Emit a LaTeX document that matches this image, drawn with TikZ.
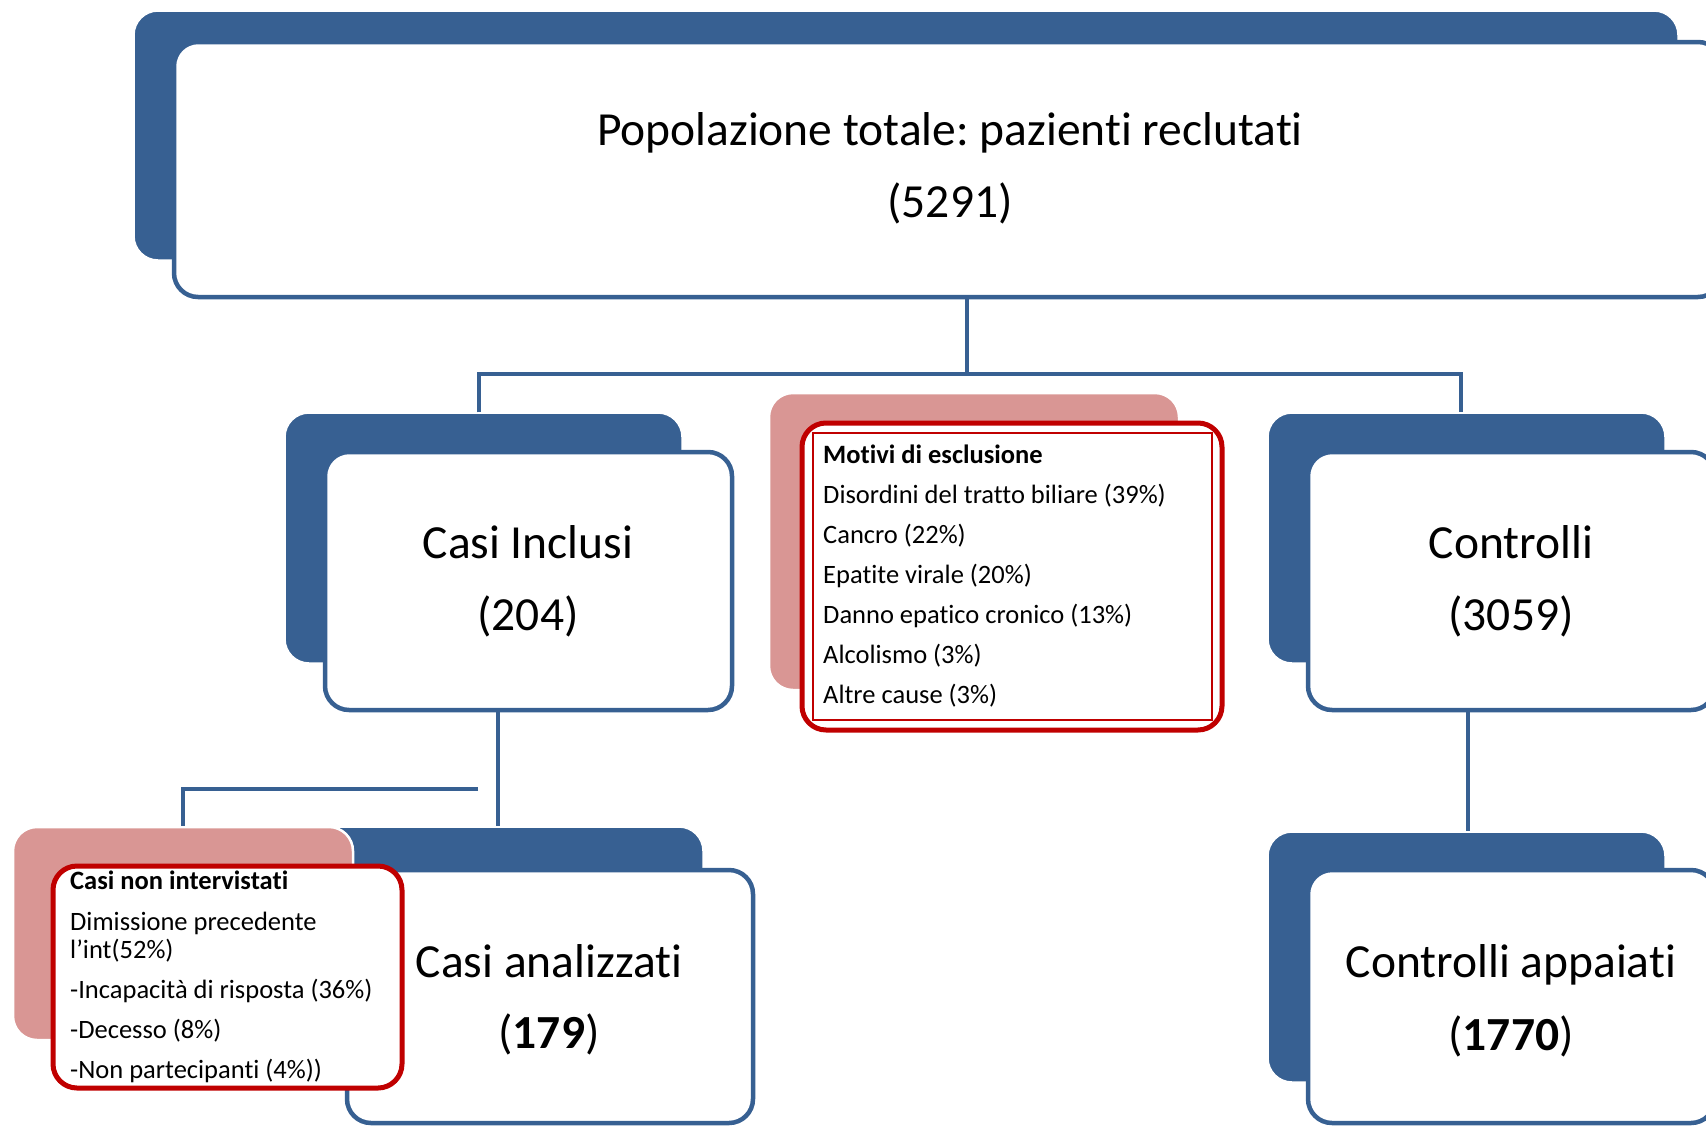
\documentclass[tikz,border=0pt]{standalone}
\usepackage{fontspec}
\setmainfont{Carlito}[Ligatures={NoCommon,NoContextual}]
\frenchspacing
\newcommand\xti{t\kern0pt i}
\definecolor{blueC}{HTML}{376092}
\definecolor{pinkC}{HTML}{D99694}
\definecolor{redC}{HTML}{C00000}
\tikzset{
  backbox/.style={rectangle, rounded corners=24pt, fill=blueC, draw=white, line width=1.5pt, inner sep=0pt},
  frontbox/.style={rectangle, rounded corners=24pt, fill=white, draw=blueC, line width=4.5pt, inner sep=0pt},
  pinkbox/.style={rectangle, rounded corners=24pt, fill=pinkC, draw=white, line width=2.5pt, inner sep=0pt},
  redbox/.style={rectangle, rounded corners=24pt, fill=white, draw=redC, line width=5pt, inner sep=0pt},
  conn/.style={draw=blueC, line width=4pt},
  bigtxt/.style={anchor=base, inner sep=0pt, font=\fontsize{47.5}{56}\selectfont},
  smalltxt/.style={anchor=base west, inner sep=0pt, font=\fontsize{26.5}{30}\selectfont},
}
\begin{document}
\begin{tikzpicture}[x=1pt,y=-1pt]
\useasboundingbox (0,0) rectangle (1706,1125);
\clip (0,0) rectangle (1706,1125);

% top
\node[backbox, minimum width=1544pt, minimum height=249pt] (topB) at (906,135.5) {};
\node[frontbox, minimum width=1548pt, minimum height=255pt] (topF) at (948,169.5) {};
\node[bigtxt] (t1) at (950,145) {Popolazione totale: pazien\xti{} recluta\xti};
\node[bigtxt] (t2) at (950,217) {(5291)};

% casi inclusi
\node[backbox, minimum width=397pt, minimum height=250pt] (ciB) at (483.5,538) {};
\node[frontbox, minimum width=407pt, minimum height=258pt] (ciF) at (528.5,581) {};
\node[bigtxt] (ci1) at (528,558) {Casi Inclusi};
\node[bigtxt] (ci2) at (528,630) {(204)};

% controlli
\node[backbox, minimum width=397pt, minimum height=250pt] (ctB) at (1466.5,538) {};
\node[frontbox, minimum width=407pt, minimum height=258pt] (ctF) at (1511.5,581) {};
\node[bigtxt] (ct1) at (1511,558) {Controlli};
\node[bigtxt] (ct2) at (1511,630) {(3059)};

% motivi di esclusione
\node[pinkbox, minimum width=410pt, minimum height=297pt] (meB) at (974,541.5) {};
\node[redbox, minimum width=420pt, minimum height=307pt] (meF) at (1012,576.5) {};
\node[draw=redC, line width=1.2pt, minimum width=399pt, minimum height=287pt, inner sep=0pt] (meI) at (1012.5,576.5) {};
\node[smalltxt] (m1) at (823,463) {\bfseries Mo\xti vi di esclusione};
\node[smalltxt] (m2) at (823,503) {Disordini del tratto biliare (39\%)};
\node[smalltxt] (m3) at (823,543) {Cancro (22\%)};
\node[smalltxt] (m4) at (823,583) {Epa\xti te virale (20\%)};
\node[smalltxt] (m5) at (823,623) {Danno epa\xti co cronico (13\%)};
\node[smalltxt] (m6) at (823,663) {Alcolismo (3\%)};
\node[smalltxt] (m7) at (823,703) {Altre cause (3\%)};

% casi analizzati
\node[backbox, minimum width=396pt, minimum height=250pt] (caB) at (505,952) {};
\node[frontbox, minimum width=406pt, minimum height=253pt] (caF) at (550,996.5) {};
\node[bigtxt] (ca1) at (549,977) {Casi analizza\xti};
\node[bigtxt] (ca2) at (549,1048) {(\textbf{179})};

% controlli appaiati
\node[backbox, minimum width=397pt, minimum height=250pt] (cpB) at (1466.5,957) {};
\node[frontbox, minimum width=407pt, minimum height=253pt] (cpF) at (1511.5,996.5) {};
\node[bigtxt] (cp1) at (1511,977) {Controlli appaia\xti};
\node[bigtxt] (cp2) at (1511,1050) {(\textbf{1770})};

% casi non intervistati
\node[pinkbox, minimum width=340pt, minimum height=213pt] (cnB) at (183,933.5) {};
\node[redbox, minimum width=349pt, minimum height=222pt] (cnF) at (227.5,977) {};
\node[smalltxt] (n1) at (70,889) {\bfseries Casi non intervista\xti};
\node[smalltxt] (n2) at (70,930) {Dimissione precedente};
\node[smalltxt] (n3) at (70,958) {l’int(52\%)};
\node[smalltxt] (n4) at (70,998) {-Incapacità di risposta (36\%)};
\node[smalltxt] (n5) at (70,1038) {-Decesso (8\%)};
\node[smalltxt] (n6) at (70,1078) {-Non partecipan\xti{} (4\%))};

% connectors
\coordinate (hub) at (967,374);
\coordinate (hl) at (479,374);
\coordinate (hr) at (1461,374);
\draw[conn] (topF.south -| hub) -- (hub);
\draw[conn] (ciB.north -| hl) -- (hl) -- (hr) -- (ctB.north -| hr);
\coordinate (vx) at (498,0);
\draw[conn] (ciF.south -| vx) -- (caB.north -| vx);
\coordinate (br) at (478,789);
\draw[conn] (br) -| (cnB.north);
\coordinate (vr) at (1468,0);
\draw[conn] (ctF.south -| vr) -- (cpB.north -| vr);
\end{tikzpicture}
\end{document}
